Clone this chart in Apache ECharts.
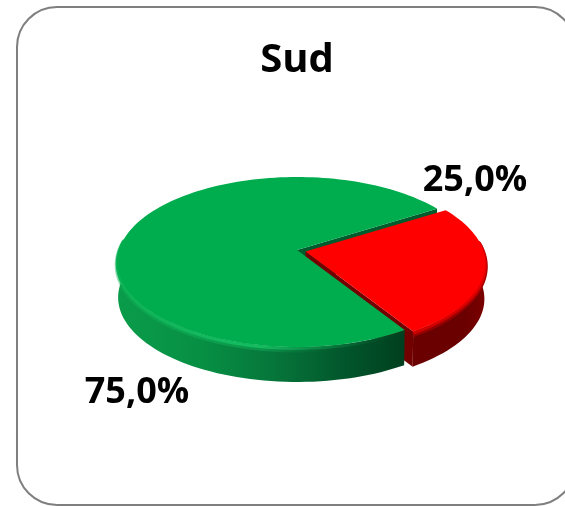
<!DOCTYPE html>
<html><head><meta charset="utf-8">
<style>html,body{margin:0;padding:0;background:#fff}#c{width:565px;height:506px}</style>
<script src="https://cdn.jsdelivr.net/npm/echarts@6/dist/echarts.min.js"></script>
</head><body><div id="c"></div>
<script>
var chartTitle = 'Sud';
var categories = ['Vert', 'Rouge'];
var values = [75, 25];
var topColors = ['#00AD4E', '#FF0000'];

var total = values.reduce(function (a, b) { return a + b; }, 0);
var pct = values.map(function (v) { return (v / total * 100).toFixed(1).replace('.', ',') + '%'; });

// disc projection (perspective on a flat disc)
var CX = 297, CY = 250, RX = 178, RY = 83.3, K = 0.141, DEPTH = 35.5, BOTTOM_SCALE = 0.995;
var START = 57.8;            // screen-clockwise angle at which the first slice starts
var OFFSETS = [[0, 0], [8.5, 1.5]];
var LABEL_POS = [[137, 393], [475, 181]];
var FONT = '"Open Sans", Lato, sans-serif';

function proj(a, off, depth) {
  var r = a * Math.PI / 180, u = Math.cos(r), v = Math.sin(r), w = 1 - K * v;
  var s = depth ? BOTTOM_SCALE : 1;
  return [CX + off[0] + RX * s * u / w, CY + off[1] + (depth || 0) + RY * s * v / w];
}
function arc(a0, a1, off, depth) {
  var pts = [], n = Math.max(2, Math.ceil(Math.abs(a1 - a0) / 2));
  for (var i = 0; i <= n; i++) pts.push(proj(a0 + (a1 - a0) * i / n, off, depth));
  return pts;
}
function grad(stops) {
  return { type: 'linear', x: 0, y: 0, x2: 1, y2: 0,
    colorStops: stops.map(function (s) { return { offset: s[0], color: s[1] }; }) };
}
var WALLS = [
  [[0, '#0A9C4A'], [0.3, '#078F44'], [0.55, '#06753A'], [0.8, '#02552B'], [1, '#003F1F']],
  [[0, '#6A0000'], [0.7, '#6A0000'], [1, '#7A0000']]
];
var RIMS = [
  [[0, '#0FB357'], [0.5, '#14BC60'], [0.75, 'rgba(10,130,65,0.7)'], [1, 'rgba(0,70,35,0)']],
  [[0, '#D00000'], [0.6, '#D40000'], [1, '#E00000']]
];
var SOFT_RIMS = [
  [[0, 'rgba(15,179,87,0.45)'], [0.5, 'rgba(20,188,96,0.4)'], [0.75, 'rgba(10,130,65,0)'], [1, 'rgba(0,70,35,0)']],
  [[0, '#960000'], [0.6, '#960000'], [1, '#A80000']]
];
var ZB = [4, 2];

function renderItem(params, api) {
  var i = params.dataIndex, off = OFFSETS[i], kids = [];
  var before = 0;
  for (var j = 0; j < i; j++) before += values[j];
  var a0 = START + before / total * 360;
  var a1 = a0 + values[i] / total * 360;
  var apex = [CX + off[0], CY + off[1]];
  var apexLow = [apex[0], apex[1] + DEPTH];
  // inner cut face at the end of the slice
  kids.push({ type: 'polygon', z2: i === 0 ? 1 : 1.5,
    shape: { points: [apex, proj(a1, off), proj(a1, off, DEPTH), apexLow] },
    style: { fill: i === 0 ? '#005C2C' : '#720000' } });
  // outer wall limited to the part that faces the viewer
  var w0 = i === 0 ? a0 : Math.max(a0 - 360, -8);
  var w1 = i === 0 ? 188 : a1 - 360;
  var top = arc(w0, w1, off), bot = arc(w1, w0, off, DEPTH);
  kids.push({ type: 'polygon', z2: ZB[i], shape: { points: top.concat(bot) },
    style: { fill: grad(WALLS[i]) } });
  kids.push({ type: 'polyline', z2: ZB[i] + 0.1, shape: { points: arc(w0, w1, [off[0], off[1] + 3]) },
    style: { fill: null, stroke: grad(SOFT_RIMS[i]), lineWidth: 5 } });
  kids.push({ type: 'polyline', z2: ZB[i] + 0.2, shape: { points: arc(w0, w1, [off[0], off[1] + 1.5]) },
    style: { fill: null, stroke: grad(RIMS[i]), lineWidth: 3 } });
  // top face
  var face = [apex].concat(arc(a0, a1, off));
  kids.push({ type: 'polygon', z2: ZB[i] + 1, shape: { points: face }, style: { fill: topColors[i] } });
  // label
  kids.push({ type: 'text', z2: 10, style: {
    text: pct[i], x: LABEL_POS[i][0], y: LABEL_POS[i][1], align: 'center', verticalAlign: 'middle',
    font: 'bold 36px ' + FONT, fill: '#000' } });
  return { type: 'group', children: kids };
}

var chart = echarts.init(document.getElementById('c'), null, { renderer: 'canvas' });
chart.setOption({
  animation: false,
  backgroundColor: '#fff',
  title: { text: chartTitle, left: 292, top: 36, textAlign: 'center',
    textStyle: { fontFamily: FONT, fontWeight: 'bold', fontSize: 40, color: '#000' } },
  graphic: [{ type: 'rect', silent: true, z: -1,
    shape: { x: 17, y: 7, width: 558, height: 498, r: 40 },
    style: { fill: '#fff', stroke: '#7F7F7F', lineWidth: 2 } }],
  series: [{
    type: 'custom', coordinateSystem: 'none', silent: true,
    renderItem: renderItem,
    data: categories.map(function (c, i) { return { name: c, value: values[i] }; })
  }]
});
</script></body></html>
